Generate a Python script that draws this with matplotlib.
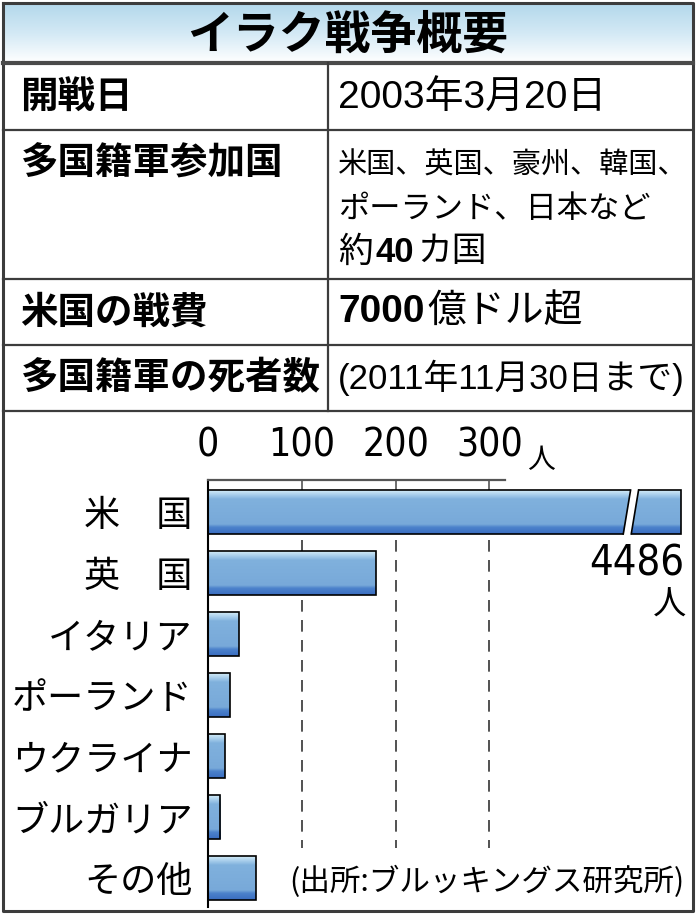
import numpy as np
import matplotlib
matplotlib.use('Agg')
import matplotlib.pyplot as plt
from matplotlib import font_manager
from matplotlib.font_manager import FontProperties
from matplotlib.colors import LinearSegmentedColormap
from matplotlib.patches import Polygon

plt.rcParams['font.family'] = ['Noto Sans CJK JP', 'DejaVu Sans']

####################################################
## data

title = 'イラク戦争概要'
row_heads = ['開戦日', '多国籍軍参加国', '米国の戦費', '多国籍軍の死者数']
start_date = '2003年3月20日'
members_l1 = '米国、英国、豪州、韓国、'
members_l2 = 'ポーランド、日本など'
members_l3 = ['約', '40', 'カ国']
cost = ['7000', '億ドル超']
deaths_note = '(2011年11月30日まで)'

countries = ['米　国', '英　国', 'イタリア', 'ポーランド', 'ウクライナ', 'ブルガリア', 'その他']
deaths = [4486, 179, 33, 23, 18, 13, 51]
ticks = [0, 100, 200, 300]
unit = '人'
source = '(出所:ブルッキングス研究所)'

####################################################
## fonts

names = {f.name for f in font_manager.fontManager.ttflist}
if 'Liberation Sans Narrow' in names:
    fp_num = FontProperties(family='Liberation Sans Narrow', size=30)
else:
    fp_num = FontProperties(family='DejaVu Sans', stretch='condensed', size=28)
fp_big = fp_num.copy()
fp_big.set_size(fp_num.get_size() + 2)

# latin digits a bit wider/taller than the CJK ones, like the newspaper font
mix = ['Liberation Sans', 'Noto Sans CJK JP', 'DejaVu Sans']

####################################################
## figure + background axes in pixel coords

fig = plt.figure(figsize=(6.96, 9.15), dpi=100)
bg = fig.add_axes([0, 0, 1, 1])

# title band gradient
tg = np.linspace(0, 1, 60).reshape(-1, 1)
tcmap = LinearSegmentedColormap.from_list('t', ['#b3d8eb', '#d3e9f5', '#ffffff'])
bg.imshow(tg, extent=(3, 693, 63, 3), cmap=tcmap, aspect='auto', zorder=0)

lc = '#3c3c3c'
bg.plot([3, 693, 693, 3, 3], [3, 3, 911, 911, 3], color=lc, lw=2.2)
bg.plot([3, 693], [63, 63], color='#4a4a4a', lw=3)
for y in [130, 279, 345, 411]:
    bg.plot([3, 693], [y, y], color=lc, lw=1.6)
bg.plot([328, 328], [63, 411], color=lc, lw=1.6)

bg.set_xlim(0, 696)
bg.set_ylim(915, 0)
bg.axis('off')

bg.text(348, 36, title, ha='center', va='center', fontsize=33, fontweight='bold')

head_y = [97, 163, 312, 378]
for h, y in zip(row_heads, head_y):
    bg.text(20, y, h, ha='left', va='center', fontsize=27, fontweight='bold')

x0 = 338
bg.text(x0, 99, start_date, ha='left', va='center', fontsize=28, family=mix)
bg.text(x0, 166, members_l1, ha='left', va='center', fontsize=21, family=mix)
bg.text(x0, 210, members_l2, ha='left', va='center', fontsize=22.5, family=mix)

def chain(parts, weights, x, y, size):
    prev = bg.text(x, y, parts[0], ha='left', va='center', fontsize=size,
                   fontweight=weights[0], family=mix)
    for p, w in zip(parts[1:], weights[1:]):
        prev = bg.annotate(p, xy=(1, 0.5), xycoords=prev, xytext=(2, 0),
                           textcoords='offset points', ha='left', va='center',
                           fontsize=size, fontweight=w, family=mix)

chain(members_l3, ['normal', 'bold', 'normal'], x0, 252, 25)
chain(cost, ['bold', 'normal'], x0, 312, 28)
bg.text(x0, 378, deaths_note, ha='left', va='center', fontsize=25, family=mix)

####################################################
## bar chart

ax = fig.add_axes([208 / 696, 1 - 907 / 915, (690 - 208) / 696, (907 - 480) / 915])

cap = 504      # visible length of the broken bar
brk = 451      # where the break sits
bh = 0.72
ypos = np.arange(len(countries))
shown = [min(d, cap) for d in deaths]

bcmap = LinearSegmentedColormap.from_list('b', [
    (0.0, '#d2ebf7'), (0.1, '#a9cfec'), (0.2, '#80b1dd'),
    (0.78, '#78a9d9'), (0.85, '#4c82cb'), (1.0, '#3a6dc1')])

bars = ax.barh(ypos, shown, height=bh, color='none', edgecolor='black', lw=1.2, zorder=3)
grad = np.linspace(0, 1, 100).reshape(-1, 1)
for b, yc, w in zip(bars, ypos, shown):
    im = ax.imshow(grad, extent=(0, w, yc + bh / 2, yc - bh / 2), cmap=bcmap,
                   aspect='auto', zorder=2)
    im.set_clip_path(b)

# break in the US bar
s = 3.9
g = 8.5
ytop = ypos[0] - bh / 2
ybot = ypos[0] + bh / 2
gap = Polygon([(brk - g / 2 - s, ybot + 0.05), (brk + g / 2 - s, ybot + 0.05),
               (brk + g / 2 + s, ytop - 0.05), (brk - g / 2 + s, ytop - 0.05)],
              closed=True, fc='white', ec='none', zorder=4)
ax.add_patch(gap)
for side in [-1, 1]:
    xe = brk + side * g / 2
    ax.plot([xe - s, xe + s], [ybot, ytop], color='black', lw=1.2, zorder=5)

# dashed guides
for t in ticks[1:]:
    ax.plot([t, t], [0.46, 5.5], color='#333333', lw=1.2, ls=(0, (7, 5)), zorder=1)

ax.plot([0, 317], [-0.525, -0.525], color='#555555', lw=1.6, clip_on=False, zorder=6)

ax.set_xlim(0, 514)
ax.set_ylim(6.475, -0.525)

ax.set_xticks(ticks)
ax.set_xticklabels([str(t) for t in ticks])
ax.tick_params(axis='x', top=True, labeltop=True, bottom=False, labelbottom=False,
               direction='in', length=7.5, width=1.2, color='#555555', pad=11)
for lbl in ax.get_xticklabels():
    lbl.set_fontproperties(fp_num)

ax.set_yticks(ypos)
ax.set_yticklabels(countries)
ax.tick_params(axis='y', length=0, pad=11, labelsize=26)

for k in ['top', 'right', 'bottom']:
    ax.spines[k].set_visible(False)
ax.spines['left'].set_color('black')
ax.spines['left'].set_linewidth(1.5)
ax.set_facecolor('none')

# labels in pixel coords
bg.text(527, 468, unit, ha='left', va='baseline', fontsize=20)
bg.text(684, 563, f'{deaths[0]}', ha='right', va='center', fontproperties=fp_big)
bg.text(686, 605, unit, ha='right', va='center', fontsize=24)
bg.text(684, 882, source, ha='right', va='center', fontsize=22)

fig.savefig('out.png', dpi=100)
